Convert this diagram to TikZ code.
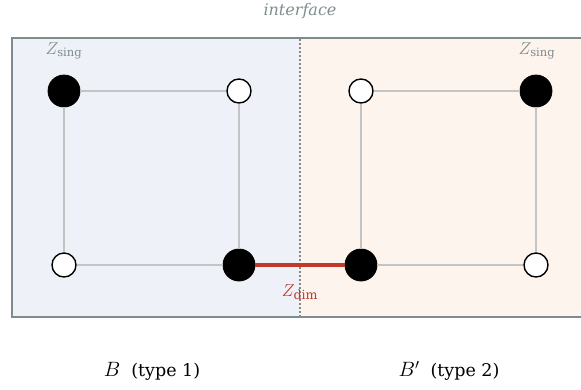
\documentclass[tikz,border=0pt]{standalone}
\usepackage{fontspec}
\setmainfont{DejaVu Serif}
\usepackage{amsmath}
\usetikzlibrary{positioning}
\definecolor{frame}{HTML}{7F8C8D}
\definecolor{leftbg}{HTML}{EEF2F8}
\definecolor{rightbg}{HTML}{FDF4EE}
\definecolor{dimred}{HTML}{C0392B}
\definecolor{gridgray}{HTML}{C4C4C4}
\tikzset{%
  filled/.style = {circle,draw=black,fill=black,line width=0.8pt,
        minimum size=32pt,inner sep=0pt},
  empty/.style = {circle,draw=black,fill=white,line width=1.4pt,
        minimum size=24pt,inner sep=0pt},
  gridedge/.style = {draw=gridgray,line width=1.3pt},
  dimedge/.style = {draw=dimred,line width=4pt},
  grey/.style = {text=frame,font=\fontsize{16.5}{19}\selectfont}
}
\newcommand{\blockname}[1]{{\fontsize{21}{24}\selectfont$#1$}}
\begin{document}
\begin{tikzpicture}[x=1pt,y=-1pt]
    \useasboundingbox (0,0) rectangle (581,389);
    \clip (0,0) rectangle (581,389);
    % background halves
    \fill[leftbg] (12,38) rectangle (300,317);
    \fill[rightbg] (300,38) rectangle (595,317);
    \draw[frame,line width=2.5pt] (595,38) -- (12,38) -- (12,317) -- (595,317);
    \coordinate (itop) at (300,39);
    \coordinate (ibot) at (300,316);
    \draw[frame,line width=1.6pt,dash pattern=on 1.6pt off 2.4pt] (itop) -- (ibot);
    \node[grey,font=\fontsize{16}{19}\selectfont\itshape] (iface) at (300,11) {interface};
    % left block
    \node[filled] (a1) at (64,91) {};
    \node[empty] (a2) at (239,91) {};
    \node[empty] (a3) at (64,265) {};
    \node[filled] (a4) at (239,265) {};
    % right block
    \node[empty] (b1) at (361,91) {};
    \node[filled] (b2) at (536,91) {};
    \node[filled] (b3) at (361,265) {};
    \node[empty] (b4) at (536,265) {};
    \draw[gridedge] (a1) -- (a2) -- (a4) -- (a3) -- (a1);
    \draw[gridedge] (b1) -- (b2) -- (b4) -- (b3) -- (b1);
    \draw[dimedge] (a4) -- (b3);
    % labels
    \node[grey] (s1) at (64,51) {$Z_{\mathrm{sing}}$};
    \node[grey] (s2) at (537,51) {$Z_{\mathrm{sing}}$};
    \node[text=dimred,font=\fontsize{18}{21}\selectfont] (zd) at (300,292) {$Z_{\mathrm{dim}}$};
    \node[font=\fontsize{17.5}{22}\selectfont] (t1) at (152,371) {\blockname{B}\ \ (type 1)};
    \node[font=\fontsize{17.5}{22}\selectfont] (t2) at (449,371) {\blockname{B'}\ \ (type 2)};
\end{tikzpicture}
\end{document}
